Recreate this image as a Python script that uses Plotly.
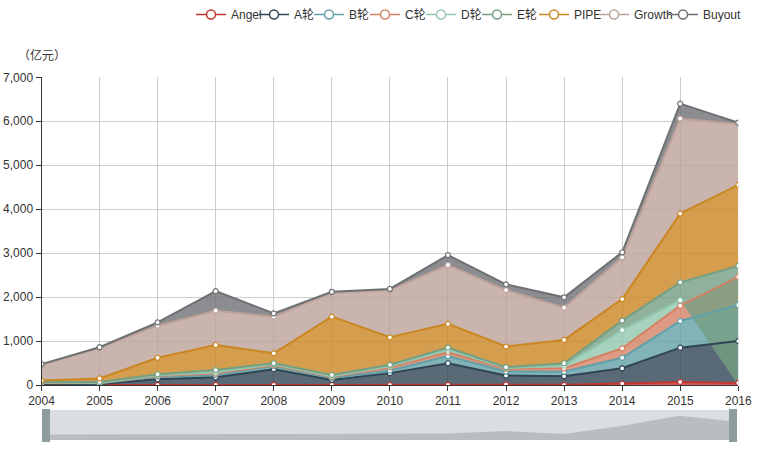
import plotly.graph_objects as go

years = [2004, 2005, 2006, 2007, 2008, 2009, 2010, 2011, 2012, 2013, 2014, 2015, 2016]
year_labels = ["2004", "2005", "2006", "2007", "2008", "2009", "2010", "2011", "2012", "2013", "2014", "2015", "2016"]

angel = [2, 2, 2, 3, 3, 3, 4, 5, 14, 3, 32, 70, 48]
a_round = [28, 18, 128, 172, 357, 112, 266, 490, 201, 197, 348, 780, 952]
b_round = [15, 20, 60, 55, 70, 45, 60, 165, 90, 100, 240, 605, 820]
c_round = [5, 5, 15, 30, 20, 20, 70, 85, 60, 80, 215, 350, 640]
d_round = [5, 5, 15, 30, 20, 20, 25, 55, 20, 60, 415, 125, None]
e_round = [15, 20, 25, 50, 25, 30, 35, 50, 20, 55, 215, 405, 250]
pipe = [30, 80, 375, 570, 225, 1325, 625, 540, 470, 530, 490, 1565, 1845]
growth = [355, 695, 730, 780, 835, 540, 1075, 1340, 1285, 735, 950, 2160, 1385]
buyout = [20, 15, 75, 445, 75, 25, 25, 225, 130, 235, 115, 340, 30]

series_names = ["Angel", "A轮", "B轮", "C轮", "D轮", "E轮", "PIPE", "Growth", "Buyout"]
series_values = [angel, a_round, b_round, c_round, d_round, e_round, pipe, growth, buyout]
colors = ["#c23531", "#2f4554", "#61a0a8", "#d48265", "#91c7ae",
          "#749f83", "#ca8622", "#bda29a", "#6e7074"]

y_ticks = [0, 1000, 2000, 3000, 4000, 5000, 6000, 7000]

FONT = "Liberation Sans, Arial, Noto Sans CJK SC, sans-serif"

W, H = 769, 452
# legend text start positions (page px)
legend_text_x = [231, 294, 349, 405, 461, 517, 574, 634, 703]


def px(x):
    return x / W


def py(y):
    return (H - y) / H


def rgba(hexc, a):
    h = hexc.lstrip("#")
    return "rgba(%d,%d,%d,%.2f)" % (int(h[0:2], 16), int(h[2:4], 16), int(h[4:6], 16), a)


# stacking (null values are skipped, like ECharts)
running = [0] * len(years)
tops = []
for vals in series_values:
    top = []
    for k, v in enumerate(vals):
        if v is None:
            top.append(None)
        else:
            running[k] += v
            top.append(running[k])
    tops.append(top)

fig = go.Figure()

# area fills
prev = [0] * len(years)
for i, top in enumerate(tops):
    bottom = [0 if p is None else p for p in prev]
    idx = [k for k in range(len(years)) if top[k] is not None]
    xs = [years[k] for k in idx] + [years[k] for k in reversed(idx)]
    ys = [top[k] for k in idx] + [bottom[k] for k in reversed(idx)]
    fig.add_trace(go.Scatter(x=xs, y=ys, mode="lines", fill="toself",
                             fillcolor=rgba(colors[i], 0.8), line=dict(width=0),
                             hoverinfo="skip", showlegend=False, xaxis="x", yaxis="y"))
    prev = top

# lines + markers
for i, top in enumerate(tops):
    fig.add_trace(go.Scatter(x=years, y=top, mode="lines+markers", name=series_names[i],
                             line=dict(color=colors[i], width=2),
                             marker=dict(size=5, color="white", line=dict(color=colors[i], width=1.2)),
                             showlegend=False, connectgaps=False, xaxis="x", yaxis="y"))

# legend entries (one small legend per item, placed like the original)
legend_layouts = {}
for i, nm in enumerate(series_names):
    lname = "legend" if i == 0 else "legend%d" % (i + 1)
    fig.add_trace(go.Scatter(x=[None], y=[None], mode="lines+markers", name=nm,
                             line=dict(color=colors[i], width=1.5),
                             marker=dict(size=9, color="white", line=dict(color=colors[i], width=1.5)),
                             showlegend=True, legend=lname, xaxis="x", yaxis="y"))
    legend_layouts[lname] = dict(orientation="h", x=px(legend_text_x[i] - 40), xanchor="left",
                                 y=1, yanchor="top", itemwidth=30,
                                 font=dict(family=FONT, size=12, color="#333"),
                                 bgcolor="rgba(0,0,0,0)", borderwidth=0)

# dataZoom shadow (first series), padded range like ECharts
mn, mx = min(angel), max(angel)
pad = (mx - mn) * 0.3
lo, hi = mn - pad, mx + pad
idx_pos = list(range(len(years)))
fig.add_trace(go.Scatter(x=idx_pos + idx_pos[::-1], y=angel + [lo] * len(years),
                         mode="lines", fill="toself", fillcolor="#babdc0",
                         line=dict(width=0), hoverinfo="skip", showlegend=False,
                         xaxis="x2", yaxis="y2"))

shapes = [
    dict(type="rect", xref="paper", yref="paper", x0=px(42), x1=px(737), y0=py(440), y1=py(410),
         fillcolor="#dadee3", line=dict(width=0), layer="below"),
    dict(type="rect", xref="paper", yref="paper", x0=px(42), x1=px(50), y0=py(442), y1=py(409),
         fillcolor="#8e9e9f", line=dict(width=0), layer="above"),
    dict(type="rect", xref="paper", yref="paper", x0=px(729), x1=px(737), y0=py(442), y1=py(409),
         fillcolor="#8e9e9f", line=dict(width=0), layer="above"),
]

fig.update_layout(
    width=W, height=H,
    margin=dict(l=0, r=0, t=0, b=0, pad=0),
    paper_bgcolor="white", plot_bgcolor="rgba(0,0,0,0)",
    font=dict(family=FONT, size=12, color="#333"),
    showlegend=True,
    xaxis=dict(domain=[px(41.5), px(738.3)], range=[2004, 2016], tickmode="array", tickvals=years,
               ticktext=year_labels, showgrid=True, gridcolor="#ccc", gridwidth=1,
               showline=True, linecolor="#333", linewidth=1, ticks="outside", ticklen=5,
               tickcolor="#333", zeroline=False, anchor="y", fixedrange=True, automargin=False),
    yaxis=dict(domain=[py(385), py(77.3)], range=[0, 7000], tickmode="array", tickvals=y_ticks,
               tickformat=",", showgrid=True, gridcolor="#ccc", gridwidth=1,
               showline=True, linecolor="#333", linewidth=1, ticks="outside", ticklen=5,
               tickcolor="#333", zeroline=False, anchor="x", fixedrange=True, automargin=False),
    xaxis2=dict(domain=[px(42), px(737)], range=[0, len(years) - 1], visible=False, anchor="y2",
                fixedrange=True),
    yaxis2=dict(domain=[py(440), py(410)], range=[lo, hi], visible=False, anchor="x2",
                fixedrange=True),
    shapes=shapes,
    annotations=[dict(text="（亿元）", xref="paper", yref="paper", x=px(42), y=py(56),
                      xanchor="center", yanchor="middle", showarrow=False,
                      font=dict(family=FONT, size=12, color="#333"))],
    **legend_layouts,
)

fig.write_html("out.html", config={"displayModeBar": False},
               post_script="document.body.style.margin='0';document.body.style.overflow='hidden';")
